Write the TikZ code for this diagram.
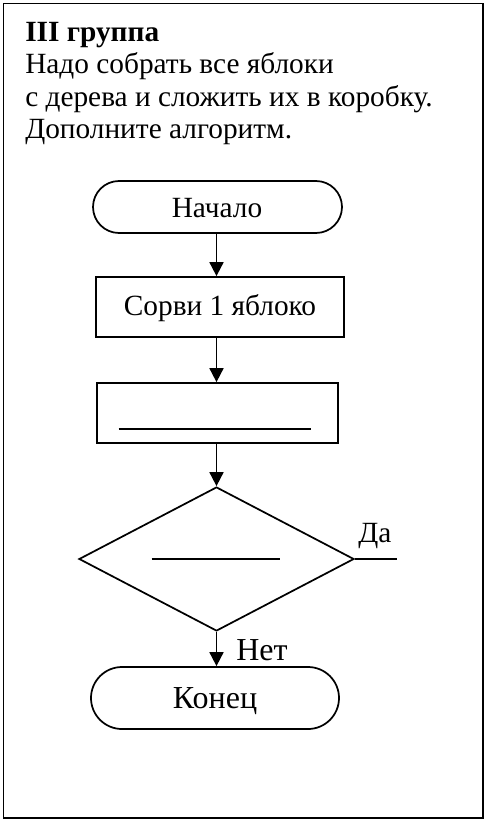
\documentclass[tikz,border=0pt]{standalone}
\usepackage{fontspec}
\setmainfont{Liberation Serif}
\usetikzlibrary{shapes.geometric,shapes.misc,arrows.meta}
\begin{document}
\begin{tikzpicture}[x=0.75pt,y=-0.75pt,
  box/.style={draw,line width=1.3pt,rectangle,inner sep=0pt},
  term/.style={draw,line width=1.3pt,rounded rectangle,inner sep=0pt},
  dec/.style={draw,line width=1.3pt,diamond,inner sep=0pt},
  flow/.style={line width=1.3pt,-{Triangle[width=10.5pt,length=10.5pt]}},
  plain/.style={line width=1.3pt},
  blank/.style={line width=0.8pt},
  ftext/.style={font=\fontsize{22}{26}\selectfont,inner sep=0pt},
  htext/.style={font=\fontsize{22}{26}\selectfont,anchor=base west,inner sep=0pt}]
\useasboundingbox (0,0) rectangle (487,820);
\draw[line width=1.1pt] (3.5,3.5) rectangle (483,818);
\node[htext] (h1) at (25,42) {\textbf{III группа}};
\node[htext] (h2) at (25,74) {Надо собрать все яблоки};
\node[htext] (h3) at (25,107) {с дерева и сложить их в коробку.};
\node[htext] (h4) at (25,138) {Дополните алгоритм.};
\node[term,minimum width=186.75pt,minimum height=39pt] (start) at (217.5,207) {};
\node[ftext,anchor=base] (starttxt) at (217,217) {Начало};
\node[box,minimum width=186pt,minimum height=45pt] (b1) at (220,307) {};
\node[ftext,anchor=base] (b1txt) at (220,315) {Сорви 1 яблоко};
\node[box,minimum width=180.75pt,minimum height=45pt] (b2) at (217.5,413) {};
\node[dec,minimum width=206.25pt,minimum height=108pt] (d) at (216.5,559) {};
\node[term,minimum width=186pt,minimum height=46.5pt] (end) at (215,698) {};
\node[ftext,anchor=base,font=\fontsize{24}{28}\selectfont] (endtxt) at (215,708) {Конец};
\coordinate (yes) at (397,559);
\node[ftext,anchor=base west] (yestxt) at (358,542) {Да};
\node[ftext,anchor=base west,font=\fontsize{24}{28}\selectfont] (notxt) at (236,660) {Нет};
\draw[blank] ([xshift=-74.25pt,yshift=-12pt]b2.center) -- ([xshift=69.75pt,yshift=-12pt]b2.center);
\draw[blank] ([xshift=-48.75pt]d.center) -- ([xshift=47.25pt]d.center);
\draw[flow] (216.5,233) coordinate (a1) -- (a1 |- b1.north);
\draw[flow] (216.5,337) coordinate (a2) -- (a2 |- b2.north);
\draw[flow] (216.5,443) coordinate (a3) -- (d.north);
\draw[flow] (d.south) -- (d.south |- end.north);
\draw[plain] (d.east) -- (yes);
\end{tikzpicture}
\end{document}
